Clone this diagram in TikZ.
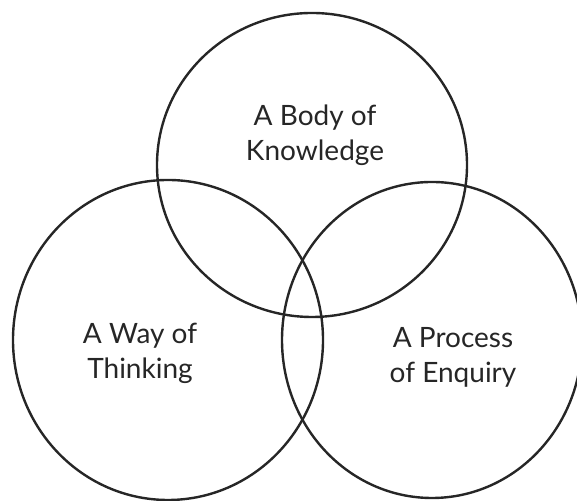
\documentclass[tikz,border=0pt]{standalone}
\usepackage{fontspec}
\setmainfont{Lato}
\usepackage{tikz}
\usetikzlibrary{positioning}

\tikzset{
    venn/.style={draw=black!85, line width=1.2pt},
    label/.style={align=center, font=\fontsize{14}{17.5}\selectfont, text=black!85}
}

\begin{document}
\begin{tikzpicture}[x=0.5pt, y=0.5pt]
            \useasboundingbox (0, 0) rectangle (577, 501);

            \coordinate (body) at (312, 336);
            \coordinate (way) at (168, 161);
            \coordinate (process) at (432, 161);

            \draw[venn] (body) ellipse [x radius=155, y radius=152];
            \draw[venn] (way) ellipse [x radius=155, y radius=160];
            \draw[venn] (process) ellipse [x radius=150, y radius=158];

            \node[label] (bodytext) at (315, 365.5) {A Body of\\Knowledge};
            \node[label] (waytext) at (140, 147.5) {A Way of\\Thinking};
            \node[label] (processtext) at (453, 143.5) {A Process\\of Enquiry};
        \end{tikzpicture}
\end{document}
